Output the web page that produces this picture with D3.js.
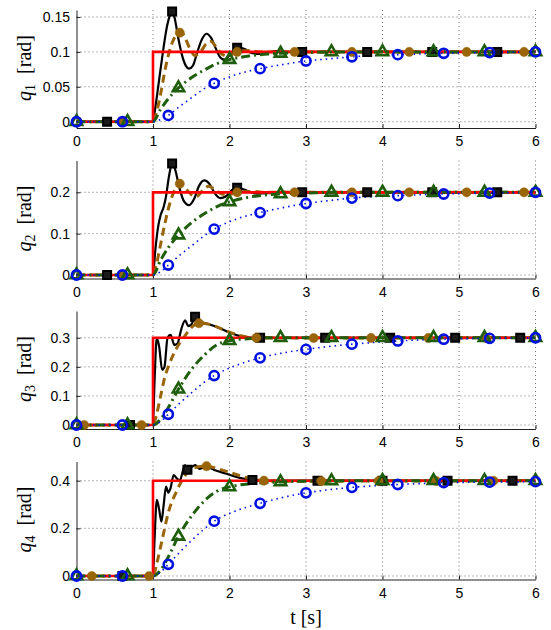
<!DOCTYPE html>
<html><head><meta charset="utf-8">
<script src="https://cdn.jsdelivr.net/npm/d3@7"></script>
<style>body{margin:0;background:#fff}svg{display:block}</style>
</head><body>
<svg id="c" width="551" height="630"></svg>
<script>
// ---------- data ----------
const xTicks = [0, 1, 2, 3, 4, 5, 6];
const xLabel = "t [s]";

const yTicks1 = [0, 0.05, 0.1, 0.15];
const yTicks2 = [0, 0.1, 0.2];
const yTicks3 = [0, 0.1, 0.2, 0.3];
const yTicks4 = [0, 0.2, 0.4];
const yDom1 = [-0.009, 0.16];
const yDom2 = [-0.0085, 0.277];
const yDom3 = [-0.0137, 0.392];
const yDom4 = [-0.0147, 0.4806];
const ySubs = ["1", "2", "3", "4"];

// reference steps (red)
const ref1 = [[0,0],[1,0],[1,0.1],[6,0.1]];
const ref2 = [[0,0],[1,0],[1,0.2],[6,0.2]];
const ref3 = [[0,0],[1,0],[1,0.3],[6,0.3]];
const ref4 = [[0,0],[1,0],[1,0.4],[6,0.4]];

// black solid (squares)
const black1 = [[0,0],[1,0],[1.03,0.02],[1.08,0.06],[1.13,0.1],[1.18,0.135],[1.22,0.152],[1.25,0.158],[1.28,0.15],[1.33,0.12],[1.38,0.095],[1.43,0.08],[1.47,0.076],[1.52,0.08],[1.58,0.1],[1.64,0.118],[1.7,0.126],[1.76,0.12],[1.82,0.105],[1.88,0.092],[1.93,0.089],[2.0,0.095],[2.1,0.106],[2.2,0.104],[2.3,0.098],[2.4,0.097],[2.5,0.099],[2.6,0.101],[2.8,0.1],[6,0.1]];
const black2 = [[0,0],[1,0],[1.03,0.06],[1.07,0.12],[1.1,0.145],[1.14,0.165],[1.17,0.19],[1.21,0.24],[1.25,0.27],[1.29,0.255],[1.34,0.215],[1.4,0.18],[1.47,0.169],[1.54,0.185],[1.6,0.215],[1.67,0.229],[1.74,0.22],[1.8,0.2],[1.88,0.186],[1.95,0.19],[2.03,0.205],[2.1,0.211],[2.2,0.206],[2.35,0.197],[2.5,0.198],[2.7,0.201],[2.9,0.2],[6,0.2]];
const black3 = [[0,0],[1,0],[1.02,0.15],[1.05,0.3],[1.08,0.27],[1.12,0.19],[1.15,0.2],[1.19,0.3],[1.23,0.31],[1.28,0.275],[1.32,0.28],[1.37,0.33],[1.42,0.36],[1.46,0.34],[1.5,0.345],[1.55,0.372],[1.6,0.36],[1.75,0.345],[1.9,0.33],[2.0,0.318],[2.15,0.305],[2.3,0.3],[6,0.3]];
const black4 = [[0,0],[1,0],[1.02,0.15],[1.05,0.32],[1.08,0.28],[1.11,0.228],[1.14,0.3],[1.17,0.375],[1.2,0.35],[1.23,0.37],[1.27,0.424],[1.31,0.41],[1.35,0.4],[1.39,0.44],[1.42,0.465],[1.46,0.44],[1.5,0.455],[1.55,0.465],[1.61,0.45],[1.7,0.458],[1.8,0.445],[1.95,0.43],[2.1,0.415],[2.32,0.402],[2.5,0.4],[6,0.4]];

// brown dashed (filled circles)
const brown1 = [[0,0],[1,0],[1.05,0.015],[1.1,0.04],[1.15,0.07],[1.2,0.095],[1.27,0.118],[1.33,0.127],[1.37,0.128],[1.42,0.12],[1.48,0.105],[1.55,0.095],[1.62,0.1],[1.7,0.112],[1.76,0.115],[1.83,0.106],[1.9,0.097],[1.97,0.094],[2.1,0.1],[2.25,0.102],[2.4,0.1],[6,0.1]];
const brown2 = [[0,0],[1,0],[1.05,0.03],[1.1,0.075],[1.15,0.12],[1.2,0.16],[1.27,0.2],[1.35,0.221],[1.42,0.21],[1.5,0.195],[1.57,0.19],[1.65,0.205],[1.73,0.215],[1.8,0.208],[1.9,0.196],[2.0,0.195],[2.1,0.2],[2.3,0.202],[2.5,0.2],[6,0.2]];
const brown3 = [[0,0],[1,0],[1.05,0.04],[1.1,0.1],[1.15,0.16],[1.2,0.2],[1.3,0.26],[1.4,0.3],[1.5,0.335],[1.6,0.35],[1.75,0.345],[1.9,0.33],[2.1,0.31],[2.35,0.3],[2.6,0.299],[6,0.3]];
const brown4 = [[0,0],[1,0],[1.05,0.054],[1.13,0.167],[1.2,0.266],[1.3,0.35],[1.44,0.43],[1.55,0.455],[1.7,0.461],[1.85,0.45],[2.0,0.435],[2.2,0.415],[2.45,0.4],[2.7,0.398],[6,0.4]];

// green dash-dot (triangles)
const green1 = [[0,0],[1,0],[1.1,0.018],[1.2,0.033],[1.33,0.048],[1.5,0.063],[1.67,0.074],[1.83,0.083],[2.0,0.089],[2.25,0.094],[2.5,0.097],[2.67,0.098],[3.0,0.099],[3.33,0.1],[6,0.1]];
const green2 = [[0,0],[1,0],[1.1,0.036],[1.2,0.066],[1.33,0.096],[1.5,0.126],[1.67,0.148],[1.83,0.165],[2.0,0.177],[2.25,0.188],[2.5,0.194],[2.67,0.196],[3.0,0.198],[3.33,0.2],[6,0.2]];
const green3 = [[0,0],[1,0],[1.1,0.02],[1.2,0.06],[1.33,0.122],[1.5,0.19],[1.67,0.24],[1.83,0.275],[2.0,0.29],[2.25,0.297],[2.5,0.3],[6,0.3]];
const green4 = [[0,0],[1,0],[1.1,0.025],[1.2,0.08],[1.33,0.165],[1.5,0.25],[1.67,0.315],[1.83,0.355],[2.0,0.374],[2.3,0.388],[2.67,0.395],[3.0,0.398],[3.5,0.4],[6,0.4]];

// blue dotted (open circles)
const blue1 = [[0,0],[1,0],[1.1,0.003],[1.2,0.009],[1.35,0.022],[1.5,0.034],[1.65,0.046],[1.8,0.055],[2.1,0.068],[2.4,0.076],[2.7,0.082],[3.0,0.087],[3.3,0.09],[3.6,0.093],[3.9,0.095],[4.2,0.096],[4.8,0.098],[5.4,0.099],[6,0.1]];
const blue2 = [[0,0],[1,0],[1.1,0.008],[1.2,0.024],[1.35,0.048],[1.5,0.07],[1.65,0.092],[1.8,0.111],[2.1,0.136],[2.4,0.151],[2.7,0.163],[3.0,0.173],[3.3,0.18],[3.6,0.186],[3.9,0.19],[4.2,0.192],[4.8,0.196],[5.4,0.198],[6,0.2]];
const blue3 = [[0,0],[1,0],[1.1,0.012],[1.2,0.037],[1.35,0.075],[1.5,0.11],[1.65,0.143],[1.8,0.17],[2.1,0.206],[2.4,0.231],[2.7,0.248],[3.0,0.26],[3.3,0.27],[3.6,0.278],[3.9,0.284],[4.2,0.289],[4.8,0.295],[5.4,0.298],[6,0.3]];
const blue4 = [[0,0],[1,0],[1.1,0.016],[1.2,0.049],[1.35,0.1],[1.5,0.148],[1.65,0.192],[1.8,0.23],[2.1,0.275],[2.4,0.305],[2.7,0.33],[3.0,0.349],[3.3,0.362],[3.6,0.372],[3.9,0.379],[4.2,0.384],[4.5,0.388],[4.8,0.392],[5.4,0.394],[6,0.396]];

// marker times
const sqT12 = [0.4,1.25,2.1,2.95,3.8,4.65,5.5];
const sqT3 = [0.7,1.55,2.4,3.25,4.1,4.95,5.8];
const sqT4 = [0.6,1.45,2.3,3.15,4.0,4.85,5.7];
const brT12 = [0.6,1.35,2.1,2.85,3.6,4.35,5.1,5.85];
const brT3 = [0.1,0.85,1.6,2.35,3.1,3.85,4.6,5.35];
const brT4 = [0.2,0.95,1.7,2.45,3.2,3.95,4.7,5.45];
const trT = [0,0.667,1.333,2,2.667,3.333,4,4.667,5.333,6];
const ciT = [0,0.6,1.2,1.8,2.4,3.0,3.6,4.2,4.8,5.4,6.0];

const panels = [
  {sub:ySubs[0], yt:yTicks1, dom:yDom1, ref:ref1, black:black1, brown:brown1, green:green1, blue:blue1, sq:sqT12, br:brT12},
  {sub:ySubs[1], yt:yTicks2, dom:yDom2, ref:ref2, black:black2, brown:brown2, green:green2, blue:blue2, sq:sqT12, br:brT12},
  {sub:ySubs[2], yt:yTicks3, dom:yDom3, ref:ref3, black:black3, brown:brown3, green:green3, blue:blue3, sq:sqT3, br:brT3},
  {sub:ySubs[3], yt:yTicks4, dom:yDom4, ref:ref4, black:black4, brown:brown4, green:green4, blue:blue4, sq:sqT4, br:brT4}
];

// ---------- drawing ----------
const C = {red:"#ff0000", black:"#000000", brown:"#9a6508", green:"#1e5e0c", blue:"#0010e0"};
const svg = d3.select("#c");
const x = d3.scaleLinear().domain([0, 6]).range([76.5, 535.5]);
const tops = [10, 160.5, 311, 461.5];
const H = 118;

function valAt(arr, t) {
  for (let i = 1; i < arr.length; i++) {
    const a = arr[i-1], b = arr[i];
    if (t >= a[0] && t <= b[0]) {
      if (b[0] === a[0]) return b[1];
      return a[1] + (b[1]-a[1])*(t-a[0])/(b[0]-a[0]);
    }
  }
  return arr[arr.length-1][1];
}

panels.forEach((p, i) => {
  const top = tops[i], bot = top + H;
  const y = d3.scaleLinear().domain(p.dom).range([bot, top]);
  const g = svg.append("g");

  // grid
  g.append("g").selectAll("line").data(xTicks.filter(t => t > 0)).join("line")
    .attr("x1", d => x(d)).attr("x2", d => x(d)).attr("y1", top).attr("y2", bot)
    .attr("stroke", "#333").attr("stroke-width", 0.7).attr("stroke-dasharray", "1,3");
  g.append("g").selectAll("line").data(p.yt).join("line")
    .attr("x1", x(0)).attr("x2", x(6)).attr("y1", d => y(d)).attr("y2", d => y(d))
    .attr("stroke", "#333").attr("stroke-width", 0.7).attr("stroke-dasharray", "1,3");

  // axes
  const ax = g.append("g").attr("transform", `translate(0,${bot})`)
    .call(d3.axisBottom(x).tickValues(xTicks).tickFormat(d3.format("d")).tickSize(-4).tickSizeOuter(0).tickPadding(8.5));
  const ay = g.append("g").attr("transform", `translate(${x(0)},0)`)
    .call(d3.axisLeft(y).tickValues(p.yt).tickFormat(d => String(d)).tickSize(-4).tickSizeOuter(0).tickPadding(6.5));
  [ax, ay].forEach(a => {
    a.selectAll("text").attr("font-family", "'Liberation Sans', Arial, sans-serif").attr("font-size", 14).attr("fill", "#000");
    a.selectAll("path,line").attr("stroke", "#222");
  });

  // y label
  const lt = g.append("text")
    .attr("transform", `translate(31,${(top+bot)/2 - 1}) rotate(-90)`)
    .attr("text-anchor", "middle")
    .attr("font-family", "'Liberation Serif', 'Times New Roman', serif")
    .attr("font-size", 20).attr("fill", "#000");
  lt.append("tspan").attr("font-style", "italic").text("q");
  lt.append("tspan").attr("font-size", 14).attr("dy", 4).text(p.sub);
  lt.append("tspan").attr("dy", -4).text("\u2002[rad]");

  // lines
  const line = d3.line().x(d => x(d[0])).y(d => y(d[1]));
  const smooth = d3.line().x(d => x(d[0])).y(d => y(d[1])).curve(d3.curveMonotoneX);
  g.append("path").attr("d", smooth(p.black)).attr("fill", "none").attr("stroke", C.black).attr("stroke-width", 2.2);
  g.append("path").attr("d", smooth(p.brown)).attr("fill", "none").attr("stroke", C.brown).attr("stroke-width", 3).attr("stroke-dasharray", "8,5");
  g.append("path").attr("d", line(p.ref)).attr("fill", "none").attr("stroke", C.red).attr("stroke-width", 2.6);
  g.append("path").attr("d", smooth(p.green)).attr("fill", "none").attr("stroke", C.green).attr("stroke-width", 3).attr("stroke-dasharray", "9,4,2,4");
  g.append("path").attr("d", smooth(p.blue)).attr("fill", "none").attr("stroke", C.blue).attr("stroke-width", 1.6).attr("stroke-dasharray", "1.5,4");

  // markers
  g.append("g").selectAll("path").data(p.sq).join("path")
    .attr("d", d3.symbol(d3.symbolSquare, 64)())
    .attr("transform", t => `translate(${x(t)},${y(valAt(p.black, t))})`)
    .attr("fill", "#1a1a1a").attr("stroke", C.black).attr("stroke-width", 2);
  g.append("g").selectAll("circle").data(p.br).join("circle")
    .attr("cx", t => x(t)).attr("cy", t => y(valAt(p.brown, t))).attr("r", 4.6)
    .attr("fill", C.brown).attr("stroke", C.brown).attr("stroke-width", 0.5);
  g.append("g").selectAll("path").data(trT).join("path")
    .attr("d", d3.symbol(d3.symbolTriangle, 56)())
    .attr("transform", t => `translate(${x(t)},${y(valAt(p.green, t))})`)
    .attr("fill", "none").attr("stroke", C.green).attr("stroke-width", 2.6);
  g.append("g").selectAll("circle").data(ciT).join("circle")
    .attr("cx", t => x(t)).attr("cy", t => y(valAt(p.blue, t))).attr("r", 4.6)
    .attr("fill", "none").attr("stroke", C.blue).attr("stroke-width", 2.6);
});

// x label
svg.append("text").attr("x", 306).attr("y", 624).attr("text-anchor", "middle")
  .attr("font-family", "'Liberation Serif', 'Times New Roman', serif").attr("font-size", 20)
  .attr("fill", "#000").text(xLabel);
</script>
</body></html>
